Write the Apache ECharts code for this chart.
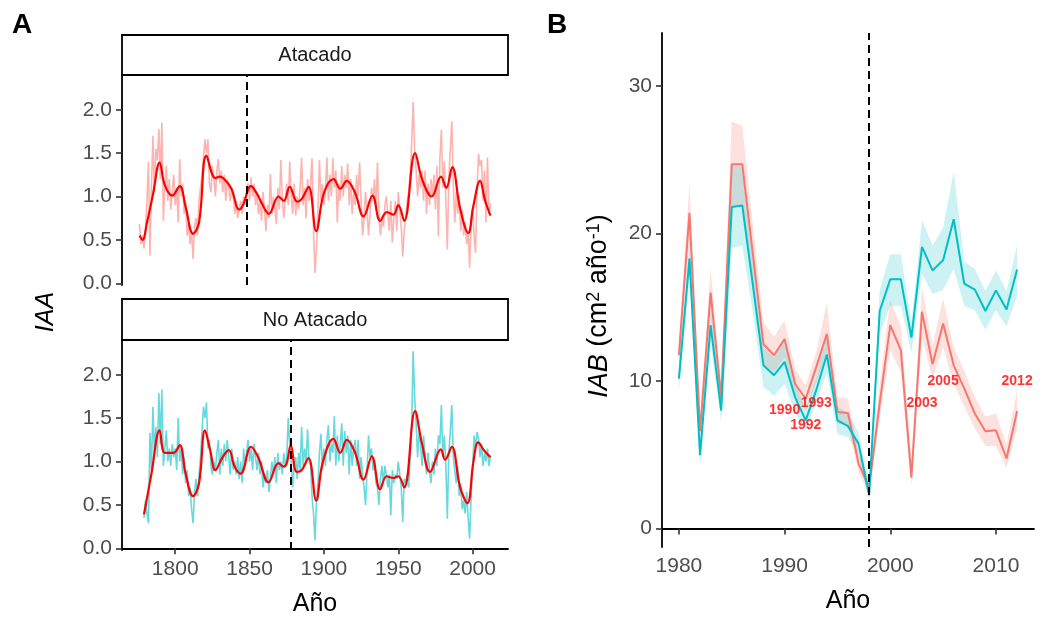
<!DOCTYPE html>
<html>
<head>
<meta charset="utf-8">
<script src="https://cdn.jsdelivr.net/npm/echarts@6/dist/echarts.min.js"></script>
<style>
  html, body { margin: 0; padding: 0; background: #fff; }
  #chart { width: 1042px; height: 623px; }
</style>
</head>
<body>
<div id="chart"></div>
<script>
const FONT = 'Liberation Sans, Arial, sans-serif'

// ---- Panel A: IAA ----
const atacadoStart = 1776
const atacadoRaw = [
  0.68, 0.45, 0.55, 0.40,
  0.62, 0.95, 1.40, 0.32, 1.10, 1.70, 1.05, 1.55, 1.42, 1.78,
  1.20, 1.85, 0.72, 1.10, 1.35, 0.95, 1.20, 0.85, 1.05, 1.25,
  0.90, 1.10, 0.70, 1.43, 1.00, 1.15, 0.80, 0.95, 0.55, 0.70,
  0.45, 0.60, 0.28, 0.65, 0.75, 0.55, 0.95, 1.10, 1.25, 1.45,
  1.66, 1.50, 1.66, 1.15, 1.05, 1.35, 1.20, 1.00, 1.30, 1.43,
  1.15, 1.30, 1.05, 1.25, 0.95, 1.20, 1.10, 0.95, 1.10, 1.00,
  0.80, 0.95, 0.75, 0.85, 0.95, 0.80, 1.00, 0.90, 1.05, 1.15,
  0.95, 1.22, 1.00, 1.15, 0.90, 1.05, 0.80, 0.95, 0.72, 1.05,
  0.85, 0.60, 0.90, 0.75, 1.26, 0.80, 1.00, 0.85, 0.68, 1.10,
  0.85, 1.42, 1.00, 0.75, 0.95, 1.15, 0.90, 1.40, 1.00, 0.80,
  1.15, 0.78, 1.00, 0.85, 1.10, 1.45, 0.90, 1.10, 0.75, 1.20,
  0.95, 1.15, 1.44, 0.60, 0.12, 0.40, 0.85, 1.42, 0.95, 1.15,
  0.90, 1.05, 1.45, 0.95, 1.25, 1.00, 1.44, 1.10, 1.30, 0.70,
  1.15, 0.95, 1.35, 1.00, 1.25, 1.10, 1.38, 0.90, 1.20, 0.80,
  1.05, 0.90, 1.25, 1.00, 1.39, 0.95, 0.55, 0.75, 1.05, 0.85,
  0.55, 0.80, 1.10, 0.95, 1.20, 0.85, 1.39, 0.80, 0.55, 0.75,
  0.65, 0.90, 1.00, 0.80, 0.60, 0.95, 0.47, 0.75, 0.95, 0.60,
  1.05, 0.85, 0.65, 0.31, 0.60, 0.75, 0.95, 1.05, 1.25, 1.60,
  2.09, 1.55, 1.30, 1.00, 1.25, 1.10, 1.30, 0.95, 1.30, 0.80,
  1.15, 0.90, 1.20, 1.00, 1.25, 0.85, 1.35, 0.54, 1.45, 1.77,
  1.10, 1.40, 0.95, 0.39, 1.20, 1.55, 1.87, 1.15, 0.70, 1.05,
  0.80, 1.00, 0.60, 0.85, 0.55, 0.70, 0.45, 0.60, 0.18, 0.75,
  0.85, 0.55, 0.35, 1.10, 1.49, 1.35, 1.42, 0.95, 1.30, 0.70,
  1.45, 0.80, 0.92
]
const noAtacadoStart = 1779
const noAtacadoRaw = [
  0.35,
  0.55, 0.40, 0.29, 1.33, 0.90, 1.63, 1.10, 1.40, 1.05, 1.79,
  1.20, 1.83, 0.95, 1.15, 1.36, 1.00, 1.15, 0.95, 1.20, 1.05,
  1.15, 0.90, 1.50, 1.00, 1.15, 0.85, 1.05, 0.75, 0.90, 0.60,
  0.70, 0.45, 0.29, 0.65, 0.80, 0.60, 0.85, 1.05, 1.35, 1.63,
  1.50, 1.68, 1.15, 1.25, 0.95, 0.85, 1.00, 0.90, 1.10, 1.25,
  0.85, 1.15, 0.95, 1.20, 1.00, 1.25, 1.05, 0.85, 1.15, 0.90,
  1.00, 0.85, 1.05, 0.80, 1.00, 0.75, 1.15, 0.95, 1.10, 1.25,
  1.00, 1.15, 0.90, 1.20, 1.05, 0.90, 1.10, 0.85, 1.00, 0.70,
  0.85, 0.75, 0.90, 0.65, 0.80, 1.00, 0.85, 1.05, 0.75, 1.10,
  0.90, 1.00, 0.85, 1.10, 0.95, 1.05, 1.50, 1.20, 1.00, 0.70,
  0.95, 1.05, 0.80, 1.10, 0.90, 1.40, 0.95, 1.15, 1.00, 1.37,
  1.00, 0.95, 0.60, 0.40, 0.09, 0.55, 0.75, 1.10, 1.32, 0.90,
  1.15, 0.95, 1.25, 1.42, 1.00, 1.20, 1.10, 1.52, 0.95, 1.30,
  1.00, 1.20, 1.44, 0.95, 1.35, 1.10, 1.30, 0.85, 1.25, 0.95,
  1.15, 1.25, 0.95, 1.25, 0.80, 1.05, 0.85, 0.70, 0.50, 0.90,
  1.30, 1.05, 1.15, 0.90, 1.00, 0.75, 0.70, 0.50, 0.80, 0.95,
  0.75, 0.95, 0.85, 0.70, 0.85, 0.38, 0.90, 0.75, 0.85, 0.80,
  1.00, 0.85, 0.70, 0.30, 0.80, 0.75, 0.85, 0.70, 1.05, 1.40,
  2.27, 1.75, 1.45, 1.05, 1.35, 1.20, 0.95, 1.30, 1.05, 0.85,
  1.10, 0.90, 0.75, 1.00, 0.85, 1.15, 0.95, 1.30, 1.20, 1.65,
  1.05, 1.30, 0.95, 0.34, 1.10, 1.35, 1.65, 1.05, 0.90, 0.75,
  0.95, 0.60, 0.75, 0.45, 0.55, 0.40, 0.65, 0.35, 0.11, 0.60,
  0.95, 1.30, 1.15, 1.34, 1.25, 1.05, 1.20, 0.95, 1.10, 1.00,
  1.15, 0.95, 1.05
]
// smoothed curves (red)
const atacadoSmoothYears = [1776, 1778, 1781, 1785, 1789.5, 1793, 1798, 1803, 1807, 1812,
  1816, 1821, 1827, 1830, 1835, 1838, 1843, 1845.5, 1851, 1855,
  1858, 1863, 1869.5, 1873, 1877, 1882, 1885, 1889.7, 1894.8, 1900,
  1906.5, 1911, 1915.4, 1921, 1926.6, 1932.7, 1937.8, 1942.3, 1946.8, 1950,
  1954, 1961.3, 1966, 1972.5, 1978.7, 1982.3, 1986.3, 1991.5, 1997.1, 2000.5,
  2005, 2008.3, 2012]
const atacadoSmoothVals = [0.55, 0.50, 0.70, 1.02, 1.39, 1.13, 1.01, 1.12, 0.88, 0.57,
  0.70, 1.47, 1.21, 1.23, 1.16, 1.08, 0.85, 0.90, 1.12, 1.03,
  0.93, 0.80, 1.00, 0.95, 1.11, 0.94, 0.97, 1.11, 0.60, 1.04,
  1.20, 1.09, 1.18, 1.04, 0.77, 1.01, 0.72, 0.82, 0.79, 0.90,
  0.72, 1.50, 1.20, 1.00, 1.23, 1.10, 1.34, 0.87, 0.58, 0.89,
  1.18, 0.96, 0.78]
const noAtacadoSmoothYears = [1779, 1784, 1789.5, 1793, 1799, 1803, 1807, 1812, 1816, 1820,
  1823.5, 1827, 1831.5, 1836, 1840, 1844, 1851, 1856, 1862.7, 1869.5,
  1873, 1875, 1877.7, 1881.7, 1885, 1889.6, 1894.8, 1899.2, 1906.4, 1911,
  1915.4, 1921, 1926.6, 1932.2, 1937.8, 1942.2, 1946.7, 1950, 1954, 1961.3,
  1965.8, 1971.4, 1978.6, 1981.5, 1986, 1991.5, 1996.5, 2000.5, 2003.8, 2007.6,
  2012]
const noAtacadoSmoothVals = [0.39, 0.86, 1.36, 1.10, 1.10, 1.19, 0.86, 0.60, 0.75, 1.36,
  1.13, 0.90, 1.04, 1.13, 0.94, 0.86, 1.17, 1.04, 0.76, 0.98,
  0.94, 0.98, 1.19, 0.88, 0.90, 1.04, 0.55, 0.99, 1.26, 1.10,
  1.25, 1.10, 0.79, 1.06, 0.68, 0.83, 0.81, 0.83, 0.70, 1.58,
  1.22, 0.88, 1.14, 1.02, 1.17, 0.71, 0.52, 0.99, 1.22, 1.13,
  1.05]
const atacadoCut = 1848
const noAtacadoCut = 1878
const yearTicksA = [1800, 1850, 1900, 1950, 2000]
const iaaTicks = [0, 0.5, 1, 1.5, 2]

// ---- Panel B: IAB ----
const yearsB = [1980, 1981, 1982, 1983, 1984, 1985, 1986, 1987, 1988, 1989,
  1990, 1991, 1992, 1993, 1994, 1995, 1996, 1997, 1998, 1999,
  2000, 2001, 2002, 2003, 2004, 2005, 2006, 2007, 2008, 2009,
  2010, 2011, 2012]
const iabAtacado = [11.75, 21.4, 6.6, 16.0, 8.9, 24.7, 24.7, 18.6, 12.5, 11.75,
  12.85, 9.8, 8.8, 10.96, 13.2, 7.9, 7.84, 4.4, 2.8, 8.5,
  13.8, 12.1, 3.45, 14.7, 11.14, 13.9, 11.07, 9.5, 7.8, 6.6,
  6.66, 4.75, 7.97]
const iabAtacadoLow = [11.0, 19.6, 5.8, 14.5, 8.0, 21.8, 21.9, 16.6, 11.1, 10.6,
  11.6, 8.9, 8.0, 9.9, 12.0, 7.1, 7.0, 3.8, 2.3, 7.5,
  12.1, 10.6, 2.9, 13.0, 10.1, 12.3, 9.8, 8.3, 6.8, 5.6,
  5.6, 4.1, 6.8]
const iabAtacadoHigh = [12.6, 23.4, 7.5, 17.6, 9.8, 27.6, 27.3, 20.6, 14.0, 13.0,
  14.1, 10.8, 9.7, 12.0, 15.3, 8.9, 8.8, 5.1, 3.4, 9.8,
  15.5, 13.7, 4.6, 16.4, 12.4, 15.6, 12.3, 10.7, 8.9, 7.6,
  7.8, 5.7, 9.4]
const iabNoAtacado = [10.17, 18.3, 4.97, 13.8, 8.0, 21.8, 21.9, 16.5, 11.07, 10.4,
  11.3, 8.9, 7.34, 9.4, 11.8, 7.34, 6.94, 5.76, 2.26, 14.75,
  16.9, 16.9, 12.95, 19.1, 17.5, 18.2, 20.97, 16.6, 16.2, 14.75,
  16.15, 14.85, 17.56]
const iabNoAtacadoLow = [9.3, 17.0, 4.3, 12.6, 7.2, 19.0, 19.2, 14.6, 9.6, 9.0,
  9.8, 7.9, 6.6, 8.5, 10.6, 6.4, 6.2, 5.0, 1.8, 13.2,
  15.1, 15.1, 11.9, 17.3, 15.9, 16.2, 17.6, 15.1, 14.8, 13.5,
  14.8, 13.7, 15.8]
const iabNoAtacadoHigh = [11.0, 19.6, 5.7, 15.0, 8.9, 24.6, 24.6, 18.4, 12.3, 11.6,
  12.8, 9.9, 8.1, 10.3, 13.0, 8.3, 7.8, 6.5, 2.8, 16.2,
  18.6, 18.6, 13.9, 20.9, 19.2, 20.4, 24.2, 18.1, 17.6, 16.1,
  17.5, 16.1, 19.2]
const cutB = 1998
const noteYears = [1990, 1992, 1993, 2003, 2005, 2012]
const noteVals = [8, 7, 8.5, 8.5, 10, 10]
const yearTicksB = [1980, 1990, 2000, 2010]
const iabTicks = [0, 10, 20, 30]

const RED_RAW = 'rgba(248,118,109,0.55)'
const TEAL_RAW = 'rgba(0,191,196,0.6)'
const CORAL = '#F8766D'
const TEAL = '#00BFC4'

function pairs(xs, ys) {
  return xs.map((x, i) => [x, ys[i]])
}
function fromStart(start, vals) {
  return vals.map((v, i) => [start + i, v])
}

const tickLabel = { color: '#4D4D4D', fontSize: 21, fontFamily: FONT }
const axisLine = { show: true, lineStyle: { color: '#000', width: 1.8 } }
const tickStyle = { color: '#333', width: 1.6 }

function yAxisA(gridIndex) {
  return {
    type: 'value', gridIndex, min: -0.02, max: 2.40,
    axisLine, splitLine: { show: false },
    axisTick: { show: true, length: 6, lineStyle: tickStyle, customValues: iaaTicks },
    axisLabel: { ...tickLabel, margin: 10, customValues: iaaTicks, formatter: v => v.toFixed(1) }
  }
}

function vline(x) {
  return {
    symbol: 'none', silent: true, label: { show: false },
    lineStyle: { color: '#000', type: [8, 5], width: 2 },
    data: [{ xAxis: x }]
  }
}

// ribbon drawn as one polygon through the axis scales
function band(low, high, color) {
  return {
    type: 'custom', xAxisIndex: 2, yAxisIndex: 2, silent: true, z: 1,
    data: yearsB.map((y, i) => [y, low[i], high[i]]),
    encode: { x: 0, y: [1, 2] },
    renderItem(params, api) {
      if (params.dataIndex !== 0) return null
      const upper = yearsB.map((y, i) => api.coord([y, high[i]]))
      const lower = yearsB.map((y, i) => api.coord([y, low[i]])).reverse()
      return { type: 'polygon', shape: { points: upper.concat(lower) }, style: { fill: color } }
    }
  }
}

const chart = echarts.init(document.getElementById('chart'))

const option = {
  animation: false,
  backgroundColor: '#fff',
  grid: [
    { left: 122, top: 75, width: 386, height: 210 },
    { left: 122, top: 340, width: 386, height: 210 },
    { left: 662, top: 33, width: 372, height: 514 }
  ],
  xAxis: [
    { type: 'value', gridIndex: 0, min: 1764.2, max: 2023.8, show: false },
    {
      type: 'value', gridIndex: 1, min: 1764.2, max: 2023.8,
      axisLine, splitLine: { show: false },
      axisTick: { show: true, length: 6, lineStyle: tickStyle, customValues: yearTicksA },
      axisLabel: { ...tickLabel, margin: 9, customValues: yearTicksA, formatter: v => String(v) },
      name: 'Año', nameLocation: 'middle', nameGap: 42,
      nameTextStyle: { fontSize: 25, color: '#000', fontFamily: FONT }
    },
    {
      type: 'value', gridIndex: 2, min: 1978.4, max: 2013.6,
      axisLine, splitLine: { show: false },
      axisTick: { show: true, length: 6, lineStyle: tickStyle, customValues: yearTicksB },
      axisLabel: { ...tickLabel, margin: 9, customValues: yearTicksB, formatter: v => String(v) },
      name: 'Año', nameLocation: 'middle', nameGap: 42,
      nameTextStyle: { fontSize: 25, color: '#000', fontFamily: FONT }
    }
  ],
  yAxis: [
    yAxisA(0),
    yAxisA(1),
    {
      type: 'value', gridIndex: 2, min: -1.25, max: 33.6,
      axisLine, splitLine: { show: false },
      axisTick: { show: true, length: 6, lineStyle: tickStyle, customValues: iabTicks },
      axisLabel: { ...tickLabel, margin: 10, customValues: iabTicks, formatter: v => String(v) }
    }
  ],
  graphic: [
    { type: 'text', left: 12, top: 11, style: { text: 'A', font: 'bold 28px ' + FONT, fill: '#000' } },
    { type: 'text', left: 547, top: 11, style: { text: 'B', font: 'bold 28px ' + FONT, fill: '#000' } },
    { type: 'rect', shape: { x: 122, y: 35, width: 386, height: 40 }, style: { fill: '#fff', stroke: '#000', lineWidth: 1.8 } },
    { type: 'text', x: 315, y: 55, style: { text: 'Atacado', font: '20px ' + FONT, fill: '#1a1a1a', align: 'center', verticalAlign: 'middle' } },
    { type: 'rect', shape: { x: 122, y: 299, width: 386, height: 41 }, style: { fill: '#fff', stroke: '#000', lineWidth: 1.8 } },
    { type: 'text', x: 315, y: 320, style: { text: 'No Atacado', font: '20px ' + FONT, fill: '#1a1a1a', align: 'center', verticalAlign: 'middle' } },
    { type: 'text', x: 46, y: 312, rotation: Math.PI / 2, style: { text: 'IAA', font: 'italic 25px ' + FONT, fill: '#000', align: 'center', verticalAlign: 'middle' } },
    {
      type: 'text', x: 599, y: 306, rotation: Math.PI / 2,
      style: {
        text: '{i|IAB} (cm{s|2} año{s|-1})', font: '27px ' + FONT, fill: '#000',
        align: 'center', verticalAlign: 'middle',
        rich: {
          i: { fontSize: 27, fontStyle: 'italic', fontFamily: FONT, fill: '#000' },
          s: { fontSize: 18, verticalAlign: 'top', fontFamily: FONT, fill: '#000' }
        }
      }
    }
  ],
  series: [
    {
      type: 'line', xAxisIndex: 0, yAxisIndex: 0, data: fromStart(atacadoStart, atacadoRaw),
      symbol: 'none', lineStyle: { color: RED_RAW, width: 1.6 }, z: 2, silent: true,
      markLine: vline(atacadoCut)
    },
    {
      type: 'line', xAxisIndex: 0, yAxisIndex: 0, data: pairs(atacadoSmoothYears, atacadoSmoothVals),
      symbol: 'none', smooth: 0.4, lineStyle: { color: '#FF0000', width: 2.2 }, z: 3, silent: true
    },
    {
      type: 'line', xAxisIndex: 1, yAxisIndex: 1, data: fromStart(noAtacadoStart, noAtacadoRaw),
      symbol: 'none', lineStyle: { color: TEAL_RAW, width: 1.6 }, z: 2, silent: true,
      markLine: vline(noAtacadoCut)
    },
    {
      type: 'line', xAxisIndex: 1, yAxisIndex: 1, data: pairs(noAtacadoSmoothYears, noAtacadoSmoothVals),
      symbol: 'none', smooth: 0.4, lineStyle: { color: '#FF0000', width: 2.2 }, z: 3, silent: true
    },
    band(iabAtacadoLow, iabAtacadoHigh, 'rgba(248,118,109,0.22)'),
    band(iabNoAtacadoLow, iabNoAtacadoHigh, 'rgba(0,191,196,0.2)'),
    {
      type: 'line', xAxisIndex: 2, yAxisIndex: 2, data: pairs(yearsB, iabAtacado),
      symbol: 'none', lineStyle: { color: CORAL, width: 2 }, z: 4, silent: true,
      markLine: vline(cutB)
    },
    {
      type: 'line', xAxisIndex: 2, yAxisIndex: 2, data: pairs(yearsB, iabNoAtacado),
      symbol: 'none', lineStyle: { color: TEAL, width: 2 }, z: 4, silent: true
    },
    {
      type: 'scatter', xAxisIndex: 2, yAxisIndex: 2, data: pairs(noteYears, noteVals),
      symbolSize: 0, z: 6, silent: true,
      label: {
        show: true, position: 'inside', formatter: p => String(p.value[0]),
        color: '#FF0000', fontWeight: 'bold', fontSize: 14, fontFamily: FONT
      }
    }
  ]
}

chart.setOption(option)
window.addEventListener('resize', () => chart.resize())
</script>
</body>
</html>
